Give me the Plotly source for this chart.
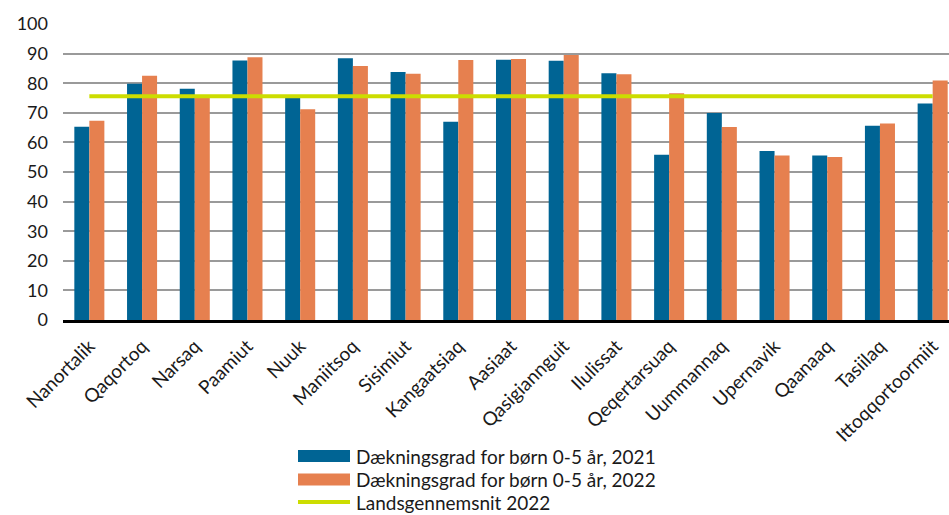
import plotly.graph_objects as go

categories = ["Nanortalik", "Qaqortoq", "Narsaq", "Paamiut", "Nuuk", "Maniitsoq", "Sisimiut",
              "Kangaatsiaq", "Aasiaat", "Qasigiannguit", "Ilulissat", "Qeqertarsuaq",
              "Uummannaq", "Upernavik", "Qaanaaq", "Tasiilaq", "Ittoqqortoormiit"]
values_2021 = [65.3, 79.8, 78.1, 87.7, 75.1, 88.4, 83.8, 67.0, 87.9, 87.6, 83.4, 55.8, 69.9, 57.1, 55.6, 65.6, 73.1]
values_2022 = [67.3, 82.5, 75.1, 88.8, 71.2, 85.8, 83.2, 87.8, 88.2, 89.5, 83.0, 76.6, 65.2, 55.6, 55.1, 66.4, 80.9]
national_avg_2022 = 75.6

name_2021 = "Dækningsgrad for børn 0-5 år, 2021"
name_2022 = "Dækningsgrad for børn 0-5 år, 2022"
name_avg = "Landsgennemsnit 2022"

BLUE = "#006494"
ORANGE = "#E6804F"
GREEN = "#CCDD00"
FONT = "Lato"
TXT = "#1a1a1a"

fig = go.Figure()
fig.add_trace(go.Bar(x=categories, y=values_2021, name=name_2021, marker_color=BLUE,
                     marker_line_width=0, showlegend=False))
fig.add_trace(go.Bar(x=categories, y=values_2022, name=name_2022, marker_color=ORANGE,
                     marker_line_width=0, showlegend=False))
fig.add_trace(go.Scatter(x=categories, y=[national_avg_2022] * len(categories), name=name_avg,
                         mode="lines", line=dict(color=GREEN, width=4), showlegend=False))

W, H = 949, 515
ml, mr, mt, mb = 63, 0, 24, 195
pw, ph = W - ml - mr, H - mt - mb

def px_x(p):
    return (p - ml) / pw

def px_y(p):
    return (H - mb - p) / ph

# manual legend (wide swatches like the original)
legend_rows = [(name_2021, "bar", BLUE, 456), (name_2022, "bar", ORANGE, 479.5), (name_avg, "line", GREEN, 502)]
shapes = []
annotations = []
for text, kind, color, cy in legend_rows:
    if kind == "bar":
        shapes.append(dict(type="rect", xref="paper", yref="paper",
                           x0=px_x(298), x1=px_x(350), y0=px_y(cy - 6), y1=px_y(cy + 6),
                           fillcolor=color, line_width=0))
    else:
        shapes.append(dict(type="line", xref="paper", yref="paper",
                           x0=px_x(298), x1=px_x(350), y0=px_y(cy), y1=px_y(cy),
                           line=dict(color=color, width=4)))
    annotations.append(dict(text=text, xref="paper", yref="paper", x=px_x(354), y=px_y(cy),
                            xanchor="left", yanchor="middle", showarrow=False,
                            font=dict(family=FONT, size=19, color=TXT)))

fig.update_layout(
    width=W, height=H,
    margin=dict(l=ml, r=mr, t=mt, b=mb, pad=0),
    paper_bgcolor="white", plot_bgcolor="white",
    barmode="group", bargap=0.43, bargroupgap=0,
    font=dict(family=FONT, size=19, color=TXT),
    shapes=shapes, annotations=annotations,
    xaxis=dict(range=[-0.5, 16.31], tickangle=-45, showline=True, linecolor="black",
               linewidth=2.5, showgrid=False, ticks="", tickfont=dict(size=19),
               ticklabelstandoff=5),
    yaxis=dict(range=[0, 100], dtick=10, showgrid=True, gridcolor="#9a9a9a", gridwidth=1.5,
               zeroline=False, showline=False, ticks="", tickfont=dict(size=18),
               ticklabelstandoff=14),
)

fig.write_html("out.html", config={"displayModeBar": False},
               post_script="document.body.style.margin='0';document.body.style.overflow='hidden';")
